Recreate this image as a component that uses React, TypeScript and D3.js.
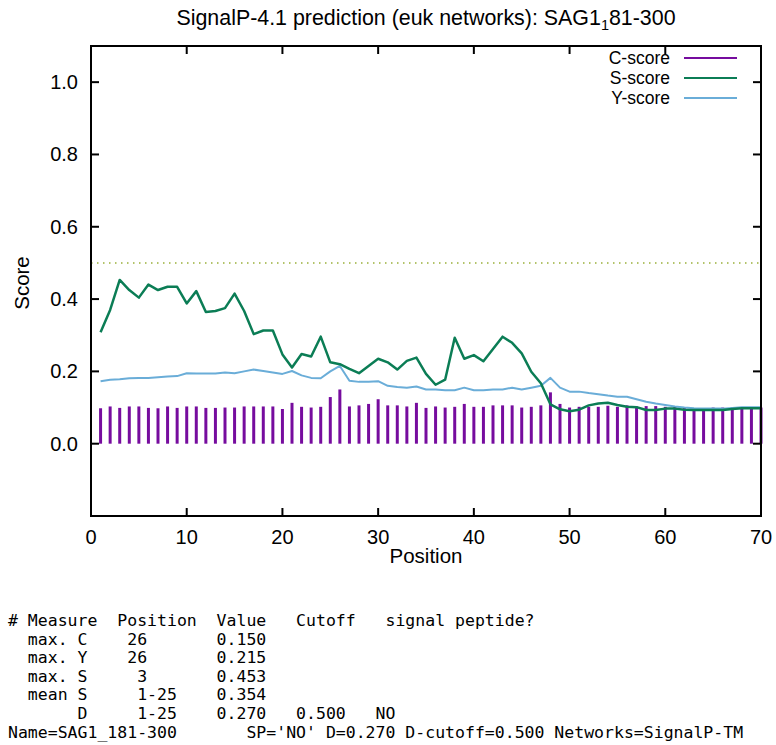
import * as d3 from 'd3';

const positions = d3.range(1, 71);

const cScore = [
  0.098, 0.103, 0.099, 0.103, 0.103, 0.099, 0.098, 0.103, 0.099, 0.103, 0.103, 0.099, 0.099, 0.100, 0.100, 0.103, 0.103, 0.103, 0.103, 0.096, 0.113, 0.102, 0.100,
  0.102, 0.129, 0.150, 0.103, 0.106, 0.110, 0.123, 0.106, 0.106, 0.103, 0.113, 0.099, 0.103, 0.100, 0.102, 0.110, 0.102, 0.102, 0.106, 0.106, 0.106, 0.100, 0.102,
  0.106, 0.142, 0.110, 0.100, 0.102, 0.102, 0.102, 0.105, 0.102, 0.106, 0.103, 0.104, 0.104, 0.102, 0.102, 0.100, 0.098, 0.098, 0.100, 0.100, 0.100, 0.100, 0.100, 0.100,
];

const sScore = [
  0.308, 0.370, 0.453, 0.425, 0.404, 0.440, 0.425, 0.434, 0.434, 0.388, 0.422, 0.364, 0.367, 0.375, 0.415, 0.367, 0.303, 0.313, 0.313, 0.247, 0.211, 0.248, 0.241,
  0.296, 0.225, 0.220, 0.207, 0.195, 0.215, 0.235, 0.225, 0.205, 0.229, 0.238, 0.193, 0.163, 0.177, 0.293, 0.235, 0.245, 0.228, 0.262, 0.296, 0.279, 0.250, 0.199,
  0.167, 0.109, 0.095, 0.090, 0.094, 0.106, 0.111, 0.113, 0.107, 0.102, 0.101, 0.093, 0.093, 0.097, 0.097, 0.094, 0.093, 0.093, 0.093, 0.093, 0.096, 0.098, 0.098, 0.098,
];

const yScore = [
  0.173, 0.177, 0.178, 0.181, 0.182, 0.182, 0.184, 0.186, 0.187, 0.195, 0.194, 0.194, 0.194, 0.197, 0.195, 0.200, 0.205, 0.201, 0.197, 0.193, 0.201, 0.189, 0.182,
  0.181, 0.200, 0.215, 0.174, 0.171, 0.171, 0.173, 0.160, 0.157, 0.155, 0.158, 0.150, 0.150, 0.148, 0.148, 0.155, 0.148, 0.148, 0.150, 0.150, 0.155, 0.150, 0.155,
  0.160, 0.182, 0.155, 0.144, 0.144, 0.140, 0.137, 0.133, 0.130, 0.130, 0.123, 0.116, 0.111, 0.107, 0.103, 0.100, 0.098, 0.097, 0.097, 0.097, 0.099, 0.101, 0.101, 0.101,
];

const cutoff = 0.5;
const xTicks = [0, 10, 20, 30, 40, 50, 60, 70];
const yTicks = [0, 0.2, 0.4, 0.6, 0.8, 1.0];

const legendItems = [
  { label: 'C-score', color: '#760c9e' },
  { label: 'S-score', color: '#0b7d55' },
  { label: 'Y-score', color: '#6aadd8' },
];

const tableLines = [
  '# Measure  Position  Value   Cutoff   signal peptide?',
  '  max. C    26       0.150',
  '  max. Y    26       0.215',
  '  max. S     3       0.453',
  '  mean S     1-25    0.354',
  '       D     1-25    0.270   0.500   NO',
  "Name=SAG1_181-300       SP='NO' D=0.270 D-cutoff=0.500 Networks=SignalP-TM",
];

const W = 776;
const H = 745;
const left = 91;
const right = 761;
const top = 46;
const bottom = 516;

export default function App() {
  const x = d3.scaleLinear().domain([0, 70]).range([left, right]);
  const y = d3.scaleLinear().domain([-0.2, 1.1]).range([bottom, top]);

  const line = d3.line<number>()
    .x((_, i) => x(positions[i]))
    .y(d => y(d));

  const font = '"Liberation Sans", Arial, Helvetica, sans-serif';
  const tick = 8;
  const legendY = (i: number) => 58 + i * 20;

  return (
    <svg width={W} height={H} style={{ position: 'absolute', left: 0, top: 0, background: '#fff' }}>
      <text x={(left + right) / 2} y={25} textAnchor="middle" fontFamily={font} fontSize={21.4}>
        SignalP-4.1 prediction (euk networks): SAG1
        <tspan fontSize={14.5} dy={5}>1</tspan>
        <tspan dy={-5}>81-300</tspan>
      </text>

      {/* cutoff */}
      <line x1={left} x2={right} y1={y(cutoff)} y2={y(cutoff)}
        stroke="#9bb03a" strokeWidth={1.5} strokeDasharray="1.5,4.5" />

      {/* C-score bars */}
      {cScore.map((v, i) => (
        <line key={i} x1={x(positions[i])} x2={x(positions[i])} y1={y(0)} y2={y(v)}
          stroke={legendItems[0].color} strokeWidth={3} />
      ))}

      <path d={line(yScore) ?? ''} fill="none" stroke={legendItems[2].color} strokeWidth={2} strokeLinejoin="round" />
      <path d={line(sScore) ?? ''} fill="none" stroke={legendItems[1].color} strokeWidth={2.5} strokeLinejoin="round" />

      {/* frame + mirrored ticks */}
      <rect x={left} y={top} width={right - left} height={bottom - top} fill="none" stroke="#000" strokeWidth={2} />
      {xTicks.map(t => (
        <g key={'x' + t}>
          <line x1={x(t)} x2={x(t)} y1={bottom} y2={bottom - tick} stroke="#000" strokeWidth={2} />
          <line x1={x(t)} x2={x(t)} y1={top} y2={top + tick} stroke="#000" strokeWidth={2} />
          <text x={x(t)} y={544} textAnchor="middle" fontFamily={font} fontSize={20}>{t}</text>
        </g>
      ))}
      {yTicks.map(t => (
        <g key={'y' + t}>
          <line x1={left} x2={left + tick} y1={y(t)} y2={y(t)} stroke="#000" strokeWidth={2} />
          <line x1={right} x2={right - tick} y1={y(t)} y2={y(t)} stroke="#000" strokeWidth={2} />
          <text x={78} y={y(t) + 7} textAnchor="end" fontFamily={font} fontSize={20}>{t.toFixed(1)}</text>
        </g>
      ))}

      <text x={(left + right) / 2} y={563} textAnchor="middle" fontFamily={font} fontSize={20.5}>Position</text>
      <text transform={`translate(29,${(top + bottom) / 2 + 2}) rotate(-90)`} textAnchor="middle" fontFamily={font} fontSize={20.5}>Score</text>

      {/* legend */}
      {legendItems.map((d, i) => (
        <g key={d.label}>
          <text x={670} y={legendY(i) + 6} textAnchor="end" fontFamily={font} fontSize={17.5}>{d.label}</text>
          <line x1={684} x2={737} y1={legendY(i)} y2={legendY(i)} stroke={d.color} strokeWidth={2} />
        </g>
      ))}

      {/* summary table */}
      {tableLines.map((s, i) => (
        <text key={i} x={8} y={626 + i * 18.6} fontFamily='"DejaVu Sans Mono", monospace' fontSize={16.5}
          style={{ whiteSpace: 'pre' }}>{s}</text>
      ))}
    </svg>
  );
}
